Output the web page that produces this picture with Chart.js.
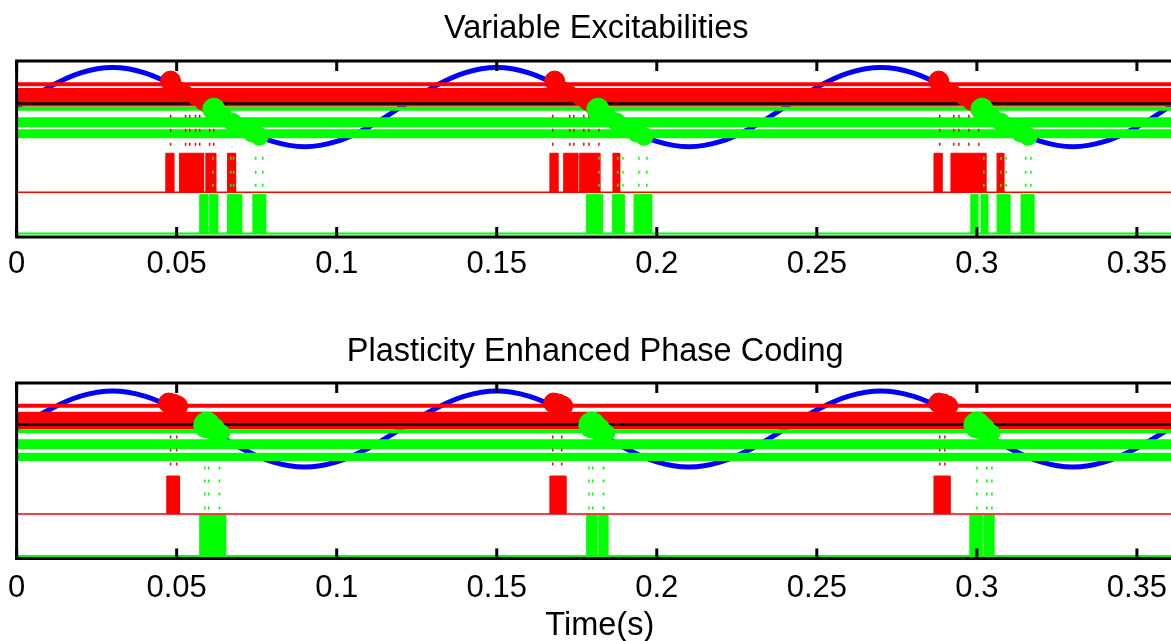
<!DOCTYPE html>
<html>
<head>
<meta charset="utf-8">
<script src="https://cdn.jsdelivr.net/npm/chart.js@4.4.1/dist/chart.umd.min.js"></script>
<style>
  html, body { margin: 0; padding: 0; background: #fff; overflow: hidden; width: 1171px; height: 641px; }
  canvas { position: absolute; }
  #chartTop { top: 0; left: -3.6px; }
  #chartBottom { top: 310px; left: -5.6px; }
</style>
</head>
<body>
<canvas id="chartTop" width="1204" height="292"></canvas>
<canvas id="chartBottom" width="1206" height="331"></canvas>
<script>
// time axis
const X_MAX = 0.3644;
const TIME_TICKS = [0, 0.05, 0.1, 0.15, 0.2, 0.25, 0.3, 0.35];
const TIME_TICK_LABELS = ["0", "0.05", "0.1", "0.15", "0.2", "0.25", "0.3", "0.35"];

// vertical unit: level below the top edge of each axes box (axis is unlabeled)
const THETA_T = [0, 0.01, 0.02, 0.03, 0.04, 0.05, 0.06, 0.07, 0.08, 0.09, 0.1, 0.11,
  0.12, 0.13, 0.14, 0.15, 0.16, 0.17, 0.18, 0.19, 0.2, 0.21, 0.22, 0.23,
  0.24, 0.25, 0.26, 0.27, 0.28, 0.29, 0.3, 0.31, 0.32, 0.33, 0.34, 0.35, 0.36, 0.37];
const THETA_A = [46, 26.3, 11.8, 6.5, 11.8, 26.3, 46, 65.8, 80.2, 85.5, 80.2, 65.8,
  46, 26.3, 11.8, 6.5, 11.8, 26.3, 46, 65.8, 80.2, 85.5, 80.2, 65.8,
  46, 26.3, 11.8, 6.5, 11.8, 26.3, 46, 65.8, 80.2, 85.5, 80.2, 65.8, 46, 26.3];
const THETA_B = [46, 27, 13.1, 8, 13.1, 27, 46, 65, 78.9, 84, 78.9, 65,
  46, 27, 13.1, 8, 13.1, 27, 46, 65, 78.9, 84, 78.9, 65,
  46, 27, 13.1, 8, 13.1, 27, 46, 65, 78.9, 84, 78.9, 65, 46, 27];

// threshold levels
const RED_LEVELS_A = [23.2, 29, 32, 35, 38, 41, 43.5];
const GREEN_LEVELS_A = [47.5, 58, 61, 64, 70, 73, 75];
const BLACK_LEVEL_A = [42.5];
const RED_LEVELS_B = [22.8, 30.7, 33.7, 36.7, 39.7, 42.7, 44.3];
const GREEN_LEVELS_B = [48.3, 58.3, 61.2, 64, 71.7, 74, 76];
const BLACK_LEVEL_B = [41.5];

// raster rows [top, base]
const RED_ROW_A = [92, 131];
const GREEN_ROW_A = [133, 172];
const RED_ROW_B = [93, 131];
const GREEN_ROW_B = [132, 173];

// spike bursts [start, end] in seconds
const RED_BURSTS_A = [[0.0466, 0.0491], [0.0509, 0.0584], [0.0591, 0.0622], [0.0659, 0.0684],
  [0.1666, 0.1691], [0.1709, 0.1753], [0.1759, 0.1822], [0.1863, 0.1884],
  [0.2866, 0.2891], [0.2919, 0.3028], [0.3063, 0.3084]];
const GREEN_BURSTS_A = [[0.0572, 0.0597], [0.0603, 0.0628], [0.0659, 0.0703], [0.0738, 0.0778],
  [0.178, 0.183], [0.1862, 0.1898], [0.1929, 0.1984],
  [0.2981, 0.3003], [0.3013, 0.3034], [0.3063, 0.3103], [0.3138, 0.3178]];
const RED_BURSTS_B = [[0.0469, 0.0509], [0.1666, 0.1716], [0.2866, 0.2916]];
const GREEN_BURSTS_B = [[0.0572, 0.0653], [0.1781, 0.1813], [0.1819, 0.1847],
  [0.2978, 0.3016], [0.3022, 0.3053]];

// small spike dots
const RED_DOT_T_A = [0.0481, 0.0528, 0.0541, 0.0559, 0.0572, 0.0603, 0.0616,
  0.1675, 0.1728, 0.1741, 0.1772, 0.1788, 0.1819,
  0.2884, 0.2928, 0.2944, 0.2975, 0.3006];
const RED_DOT_ROWS_A = [55, 69, 83];
const GREEN_DOT_T_A = [0.0613, 0.0669, 0.0678, 0.0747, 0.0769,
  0.1819, 0.1878, 0.1894, 0.1944, 0.1969,
  0.3022, 0.3075, 0.3091, 0.3153, 0.3169];
const GREEN_DOT_ROWS_A = [97, 111, 124];
const RED_DOT_T_B = [0.0481, 0.05, 0.1675, 0.1703, 0.2884, 0.29];
const RED_DOT_ROWS_B = [54, 67, 81];
const GREEN_DOT_T_B = [0.0588, 0.06, 0.0634, 0.1788, 0.18, 0.1834, 0.3, 0.3031, 0.3047];
const GREEN_DOT_ROWS_B = [85, 98, 111, 125];

// crossing markers on the oscillation
const RED_MARK_T_A = [0.0481, 0.0505, 0.053, 0.0555, 0.058, 0.0595,
  0.1681, 0.1705, 0.173, 0.1755, 0.178, 0.1795,
  0.2881, 0.2905, 0.293, 0.2955, 0.298, 0.2995];
const RED_MARK_Y_A = [20, 27.2, 31.8, 36.8, 41.9, 45, 20, 27.2, 31.8, 36.8, 41.9, 45,
  20, 27.2, 31.8, 36.8, 41.9, 45];
const GREEN_MARK_T_A = [0.0616, 0.0645, 0.0675, 0.0705, 0.0735, 0.0758,
  0.1816, 0.1846, 0.1876, 0.1906, 0.1936, 0.196,
  0.3016, 0.3046, 0.3076, 0.3106, 0.3136, 0.316];
const GREEN_MARK_Y_A = [48, 55.2, 61.1, 66.6, 71.6, 75.1, 48, 55.2, 61.1, 66.6, 71.6, 75.1,
  48, 55.2, 61.1, 66.6, 71.6, 75.1];
const RED_MARK_T_B = [0.0475, 0.0489, 0.0503, 0.1678, 0.1692, 0.1706, 0.2881, 0.2895, 0.2909];
const RED_MARK_Y_B = [20, 21, 23, 20, 21, 23, 20, 21, 23];
const GREEN_MARK_T_B = [0.0594, 0.0616, 0.0641, 0.1797, 0.1819, 0.1844, 0.3, 0.3022, 0.3047];
const GREEN_MARK_Y_B = [42, 46, 50, 42, 46, 50, 42, 46, 50];

const RED = "#ff0000";
const GREEN = "#00ff00";
const BLUE = "#0000ff";
const FONT = "'Liberation Sans', Arial, Helvetica, sans-serif";

Chart.defaults.font.family = FONT;
Chart.defaults.color = "#000";

function levelLine(level, color, width, order) {
  return {
    data: [{ x: 0, y: level }, { x: X_MAX, y: level }],
    borderColor: color,
    borderWidth: width,
    pointRadius: 0,
    order: order,
  };
}

function burstBox(span, row, color) {
  return {
    data: [
      { x: span[0], y: row[1] }, { x: span[0], y: row[0] },
      { x: span[1], y: row[0] }, { x: span[1], y: row[1] },
    ],
    borderColor: color,
    backgroundColor: color,
    borderWidth: 1,
    pointRadius: 0,
    tension: 0,
    fill: { value: row[1] },
    order: 6,
  };
}

function dotRaster(times, rows, color) {
  const pts = [];
  rows.forEach((r) => times.forEach((t) => pts.push({ x: t, y: r })));
  return {
    data: pts,
    showLine: false,
    pointStyle: "line",
    pointRotation: 90,
    pointRadius: 1.5,
    pointBorderWidth: 1.5,
    pointBorderColor: color,
    borderColor: color,
    order: 3,
  };
}

function markers(times, ys, color, radii, order) {
  return {
    data: times.map((t, i) => ({ x: t, y: ys[i] })),
    showLine: false,
    pointStyle: "circle",
    pointRadius: (c) => radii[c.dataIndex % radii.length],
    pointBackgroundColor: color,
    pointBorderColor: color,
    pointBorderWidth: 1,
    borderColor: color,
    order: order,
  };
}

function panelDatasets(p) {
  const ds = [];
  ds.push({
    data: THETA_T.map((t, i) => ({ x: t, y: p.theta[i] })),
    borderColor: BLUE,
    borderWidth: 5,
    pointRadius: 0,
    tension: 0.4,
    order: 10,
  });
  p.redLevels.forEach((l) => ds.push(levelLine(l, RED, 4, 9)));
  p.greenLevels.forEach((l) => ds.push(levelLine(l, GREEN, 4, 8)));
  p.blackLevel.forEach((l) => ds.push(levelLine(l, "#000", 2.5, 7)));
  p.redBursts.forEach((s) => ds.push(burstBox(s, p.redRow, RED)));
  p.greenBursts.forEach((s) => ds.push(burstBox(s, p.greenRow, GREEN)));
  ds.push(levelLine(p.redRow[1], RED, 1.5, 5));
  ds.push(levelLine(p.greenRow[1], GREEN, 2, 5));
  ds.push(dotRaster(p.redDotT, p.redDotRows, RED));
  ds.push(dotRaster(p.greenDotT, p.greenDotRows, GREEN));
  ds.push(markers(p.redMarkT, p.redMarkY, RED, p.redRadii, 2));
  ds.push(markers(p.greenMarkT, p.greenMarkY, GREEN, p.greenRadii, 1));
  return ds;
}

const axesFrame = {
  id: "axesFrame",
  afterDatasetsDraw(chart) {
    const { ctx, chartArea: a } = chart;
    const x = chart.scales.x;
    ctx.save();
    ctx.strokeStyle = "#000";
    ctx.lineWidth = 3;
    ctx.strokeRect(a.left, a.top, a.right - a.left, a.bottom - a.top);
    ctx.beginPath();
    TIME_TICKS.forEach((v) => {
      const px = x.getPixelForValue(v);
      ctx.moveTo(px, a.top);
      ctx.lineTo(px, a.top + 10);
      ctx.moveTo(px, a.bottom);
      ctx.lineTo(px, a.bottom - 10);
    });
    ctx.stroke();
    ctx.restore();
  },
};

function makeChart(id, title, titlePad, tickPad, xTitle, p) {
  return new Chart(document.getElementById(id), {
    type: "line",
    data: { datasets: panelDatasets(p) },
    plugins: [axesFrame],
    options: {
      responsive: false,
      devicePixelRatio: 1,
      animation: false,
      events: [],
      layout: { autoPadding: false, padding: { left: 13.5, right: 17, top: 0, bottom: 0 } },
      scales: {
        x: {
          type: "linear",
          min: 0,
          max: X_MAX,
          grid: { display: false, drawTicks: false },
          border: { display: false },
          afterBuildTicks: (s) => {
            s.ticks = TIME_TICKS.map((v) => ({ value: v }));
          },
          ticks: {
            padding: tickPad,
            autoSkip: false,
            maxRotation: 0,
            font: { size: 31, lineHeight: 1 },
            callback: (v, i) => TIME_TICK_LABELS[i],
          },
          title: xTitle
            ? { display: true, text: xTitle, font: { size: 32.5, lineHeight: 0.4 }, padding: { top: 2.5, bottom: 8 } }
            : { display: false },
        },
        y: { type: "linear", min: 0, max: 175.5, reverse: true, display: false },
      },
      plugins: {
        legend: { display: false },
        tooltip: { enabled: false },
        title: {
          display: true,
          text: title,
          font: { size: 32.5, weight: "normal", lineHeight: 1.2 },
          padding: titlePad,
        },
      },
    },
  });
}

makeChart("chartTop", "Variable Excitabilities", { top: 10, bottom: 12 }, 12, null, {
  theta: THETA_A,
  redLevels: RED_LEVELS_A, greenLevels: GREEN_LEVELS_A, blackLevel: BLACK_LEVEL_A,
  redRow: RED_ROW_A, greenRow: GREEN_ROW_A,
  redBursts: RED_BURSTS_A, greenBursts: GREEN_BURSTS_A,
  redDotT: RED_DOT_T_A, redDotRows: RED_DOT_ROWS_A,
  greenDotT: GREEN_DOT_T_A, greenDotRows: GREEN_DOT_ROWS_A,
  redMarkT: RED_MARK_T_A, redMarkY: RED_MARK_Y_A, redRadii: [10, 7, 7, 7, 7, 7],
  greenMarkT: GREEN_MARK_T_A, greenMarkY: GREEN_MARK_Y_A, greenRadii: [11, 9, 9, 9, 9, 9],
});

makeChart("chartBottom", "Plasticity Enhanced Phase Coding", { top: 23, bottom: 11 }, 14, "Time(s)", {
  theta: THETA_B,
  redLevels: RED_LEVELS_B, greenLevels: GREEN_LEVELS_B, blackLevel: BLACK_LEVEL_B,
  redRow: RED_ROW_B, greenRow: GREEN_ROW_B,
  redBursts: RED_BURSTS_B, greenBursts: GREEN_BURSTS_B,
  redDotT: RED_DOT_T_B, redDotRows: RED_DOT_ROWS_B,
  greenDotT: GREEN_DOT_T_B, greenDotRows: GREEN_DOT_ROWS_B,
  redMarkT: RED_MARK_T_B, redMarkY: RED_MARK_Y_B, redRadii: [10],
  greenMarkT: GREEN_MARK_T_B, greenMarkY: GREEN_MARK_Y_B, greenRadii: [13, 11, 8],
});
</script>
</body>
</html>
